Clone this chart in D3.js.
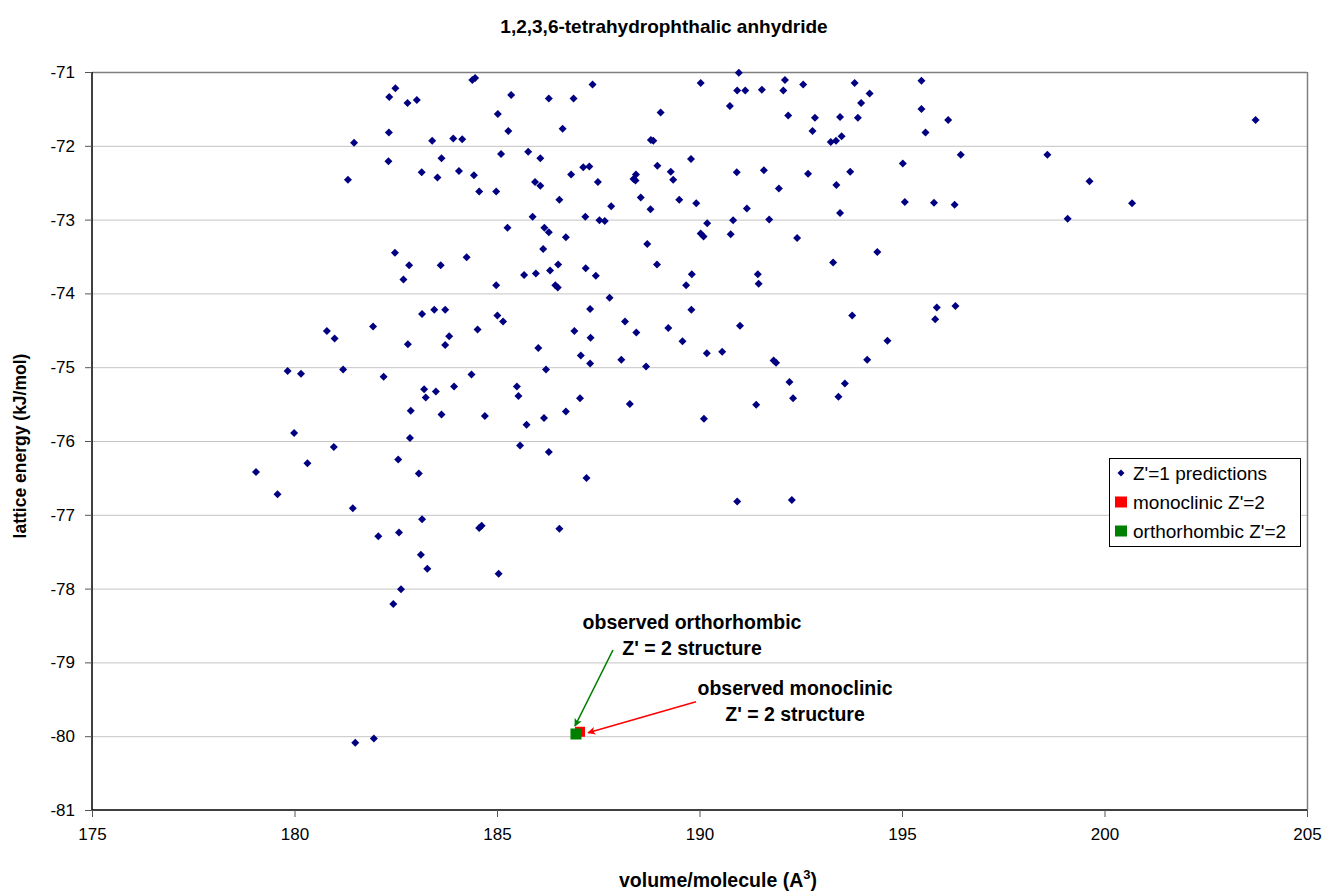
<!DOCTYPE html>
<html>
<head>
<meta charset="utf-8">
<script src="https://cdn.jsdelivr.net/npm/d3@7"></script>
<style>
  html, body { margin: 0; padding: 0; background: #fff; }
  svg { display: block; font-family: Arial, "Liberation Sans", sans-serif; }
</style>
</head>
<body>
<svg id="chart" width="1325" height="893"></svg>
<script>
// ---------- DATA ----------
const chartTitle = "1,2,3,6-tetrahydrophthalic anhydride";
const xTicks = [175, 180, 185, 190, 195, 200, 205];
const yTicks = [-71, -72, -73, -74, -75, -76, -77, -78, -79, -80, -81];

// Z'=1 predictions: volume/molecule (A^3)
const predVolume = [
  179.05,179.58,179.83,179.99,180.16,180.32,180.80,180.99,180.97,181.20,
  181.32,181.47,181.44,181.50,181.96,181.94,182.07,182.20,182.34,182.33,
  182.32,182.49,182.48,182.44,182.56,182.58,182.63,182.69,182.79,182.80,
  182.83,182.85,182.87,183.02,183.07,183.14,183.15,183.15,183.12,183.20,
  183.24,183.28,183.40,183.45,183.49,183.53,183.61,183.63,183.63,183.72,
  183.72,183.82,183.92,183.94,184.06,184.14,184.25,184.39,184.46,184.37,
  184.43,184.52,184.56,184.56,184.62,184.70,184.98,184.98,185.02,185.01,
  185.04,185.10,185.15,185.26,185.28,185.35,185.49,185.53,185.57,185.67,
  185.73,185.77,185.88,185.94,186.07,185.96,186.02,186.07,186.14,186.17,
  186.28,186.16,186.21,186.28,186.28,186.31,186.44,186.50,186.51,186.54,
  186.54,186.62,186.70,186.70,186.83,186.91,186.89,187.05,187.07,187.13,
  187.28,187.18,187.21,187.19,187.30,187.31,187.30,187.36,187.44,187.49,
  187.53,187.66,187.82,187.78,188.07,188.16,188.28,188.37,188.43,188.42,
  188.44,188.55,188.68,188.71,188.79,188.80,188.86,188.95,188.96,189.04,
  189.23,189.29,189.35,189.50,189.58,189.67,189.79,189.81,189.80,189.92,
  190.03,190.03,190.10,190.11,190.18,190.19,190.56,190.75,190.77,190.83,
  190.93,190.92,190.97,190.93,191.00,191.13,191.17,191.40,191.44,191.46,
  191.54,191.59,191.72,191.83,191.89,191.96,192.07,192.11,192.19,192.22,
  192.28,192.31,192.41,192.56,192.68,192.79,192.85,193.24,193.37,193.51,
  193.30,193.38,193.43,193.47,193.47,193.59,193.72,193.77,193.83,193.91,
  193.99,194.14,194.20,194.39,194.64,195.02,195.07,195.48,195.48,195.58,
  195.79,195.82,195.86,196.14,196.30,196.32,196.45,198.59,199.63,199.09,
  200.68,203.73
];
// Z'=1 predictions: lattice energy (kJ/mol)
const predEnergy = [
  -76.42,-76.72,-75.05,-75.89,-75.09,-76.30,-74.51,-74.61,-76.08,-75.03,
  -72.46,-71.96,-76.91,-80.09,-80.03,-74.45,-77.29,-75.13,-71.34,-71.82,
  -72.21,-71.22,-73.45,-78.21,-76.25,-77.24,-78.01,-73.81,-71.42,-74.69,
  -73.62,-75.96,-75.59,-71.38,-76.44,-72.36,-77.06,-74.28,-77.54,-75.30,
  -75.41,-77.73,-71.93,-74.22,-75.33,-72.43,-73.62,-72.17,-75.64,-74.70,
  -74.22,-74.58,-71.90,-75.26,-72.34,-71.91,-73.51,-71.11,-71.08,-75.10,
  -72.40,-74.49,-72.62,-77.18,-77.15,-75.66,-72.62,-73.89,-71.57,-74.30,
  -77.80,-72.11,-74.38,-73.11,-71.80,-71.31,-75.26,-75.39,-76.06,-73.75,
  -75.78,-72.08,-72.96,-72.49,-72.54,-73.73,-74.74,-72.17,-73.40,-73.11,
  -73.17,-75.69,-75.03,-76.15,-71.36,-73.69,-73.89,-73.92,-73.61,-72.73,
  -77.19,-71.77,-75.60,-73.24,-72.39,-74.51,-71.36,-75.42,-74.84,-72.29,
  -72.28,-72.96,-76.50,-73.66,-74.95,-74.60,-74.21,-71.17,-73.76,-72.49,
  -73.01,-73.02,-72.82,-74.06,-74.90,-74.38,-75.50,-72.45,-72.39,-72.47,
  -74.53,-72.70,-74.99,-73.33,-72.86,-71.92,-71.93,-73.61,-72.27,-71.55,
  -74.47,-72.35,-72.46,-72.73,-74.65,-73.89,-72.18,-73.74,-74.22,-72.78,
  -71.15,-73.19,-73.23,-75.70,-74.81,-73.05,-74.79,-71.46,-73.20,-73.01,
  -76.82,-72.36,-71.01,-71.25,-74.44,-71.25,-72.85,-75.51,-73.74,-73.87,
  -71.24,-72.33,-73.00,-74.91,-74.94,-72.58,-71.25,-71.11,-71.59,-75.20,
  -76.80,-75.42,-73.25,-71.17,-72.38,-71.80,-71.62,-71.95,-71.93,-71.87,
  -73.58,-72.53,-75.40,-72.91,-71.61,-75.22,-72.35,-74.30,-71.15,-71.62,
  -71.42,-74.90,-71.29,-73.44,-74.64,-72.24,-72.76,-71.12,-71.50,-71.82,
  -72.77,-74.35,-74.19,-71.65,-72.80,-74.17,-72.12,-72.12,-72.48,-72.99,
  -72.78,-71.65
];
// Observed Z'=2 structures
const monoVolume = [187.05];
const monoEnergy = [-79.94];
const orthoVolume = [186.95];
const orthoEnergy = [-79.97];

const legendLabels = ["Z'=1 predictions", "monoclinic Z'=2", "orthorhombic Z'=2"];
const annotOrtho = ["observed orthorhombic", "Z' = 2 structure"];
const annotMono = ["observed monoclinic", "Z' = 2 structure"];

// ---------- LAYOUT ----------
const W = 1325, H = 893;
const plot = { left: 92, right: 1307, top: 72, bottom: 810 };
const navy = "#000080", red = "#ff0000", green = "#008000";

const svg = d3.select("#chart");
const x = d3.scaleLinear().domain([175, 205]).range([plot.left, plot.right]);
const y = d3.scaleLinear().domain([-81, -71]).range([plot.bottom, plot.top]);

// gridlines
svg.append("g").selectAll("line").data(yTicks.filter(v => v !== -81 && v !== -71)).join("line")
  .attr("x1", plot.left).attr("x2", plot.right)
  .attr("y1", d => y(d) + 0.5).attr("y2", d => y(d) + 0.5)
  .attr("stroke", "#c4c4c4").attr("stroke-width", 1);

// plot border (top/right gray)
svg.append("line").attr("x1", plot.left).attr("x2", plot.right).attr("y1", plot.top + 0.5).attr("y2", plot.top + 0.5)
  .attr("stroke", "#808080").attr("stroke-width", 1.5);
svg.append("line").attr("x1", plot.right + 0.5).attr("x2", plot.right + 0.5).attr("y1", plot.top).attr("y2", plot.bottom)
  .attr("stroke", "#808080").attr("stroke-width", 1.5);

// axes
const xAxis = d3.axisBottom(x).tickValues(xTicks).tickSize(7).tickPadding(11).tickFormat(d3.format("d"));
const yAxis = d3.axisLeft(y).tickValues(yTicks).tickSize(7).tickPadding(10).tickFormat(d => d3.format("d")(d).replace("−", "-"));
const gx = svg.append("g").attr("transform", `translate(0,${plot.bottom})`).call(xAxis);
const gy = svg.append("g").attr("transform", `translate(${plot.left},0)`).call(yAxis);
[gx, gy].forEach(g => {
  g.select(".domain").attr("stroke", "#000").attr("stroke-width", 1.5);
  g.selectAll(".tick line").attr("stroke", "#555").attr("stroke-width", 1);
  g.selectAll(".tick text").attr("font-size", 17).attr("fill", "#000")
    .attr("font-family", "Arial, 'Liberation Sans', sans-serif");
});
gx.select(".domain").attr("d", `M${plot.left},0H${plot.right}`);
gy.select(".domain").attr("d", `M0,${plot.top}V${plot.bottom}`);

// diamonds
const diamond = r => `M0,${-r}L${r},0L0,${r}L${-r},0Z`;
const pts = predVolume.map((v, i) => ({ v, e: predEnergy[i] }));
svg.append("g").selectAll("path").data(pts).join("path")
  .attr("d", diamond(4))
  .attr("transform", d => `translate(${x(d.v)},${y(d.e)})`)
  .attr("fill", navy);

// observed structures (squares)
const sq = 10;
svg.append("g").selectAll("rect").data(monoVolume.map((v, i) => ({ v, e: monoEnergy[i] }))).join("rect")
  .attr("x", d => x(d.v) - sq / 2).attr("y", d => y(d.e) - sq / 2).attr("width", sq).attr("height", sq).attr("fill", red);
svg.append("g").selectAll("rect").data(orthoVolume.map((v, i) => ({ v, e: orthoEnergy[i] }))).join("rect")
  .attr("x", d => x(d.v) - sq / 2 - 0.5).attr("y", d => y(d.e) - sq / 2 - 0.5).attr("width", sq + 1).attr("height", sq + 1).attr("fill", green);

// arrow markers
const defs = svg.append("defs");
[["arrG", green], ["arrR", red]].forEach(([id, c]) => {
  defs.append("marker").attr("id", id).attr("viewBox", "0 0 10 10").attr("refX", 9).attr("refY", 5)
    .attr("markerWidth", 8).attr("markerHeight", 8).attr("markerUnits", "userSpaceOnUse").attr("orient", "auto")
    .append("path").attr("d", "M0,0L10,5L0,10L2.5,5Z").attr("fill", c);
});
const ox = x(orthoVolume[0]), oy = y(orthoEnergy[0]);
svg.append("line").attr("x1", ox + 37).attr("y1", oy - 84).attr("x2", ox - 1).attr("y2", oy - 8)
  .attr("stroke", green).attr("stroke-width", 1.6).attr("marker-end", "url(#arrG)");
const mx = x(monoVolume[0]), my = y(monoEnergy[0]);
svg.append("line").attr("x1", mx + 116).attr("y1", my - 30).attr("x2", mx + 8).attr("y2", my + 1)
  .attr("stroke", red).attr("stroke-width", 1.6).attr("marker-end", "url(#arrR)");

// annotation texts
function annot(lines, cx, cy) {
  const t = svg.append("text").attr("text-anchor", "middle").attr("font-size", 19.5).attr("font-weight", "bold").attr("fill", "#000");
  lines.forEach((s, i) => t.append("tspan").attr("x", cx).attr("y", cy + i * 26).text(s));
}
annot(annotOrtho, 692, 629);
annot(annotMono, 795, 695);

// title
svg.append("text").attr("x", 664).attr("y", 33).attr("text-anchor", "middle")
  .attr("font-size", 19).attr("font-weight", "bold").text(chartTitle);

// axis titles
svg.append("text").attr("transform", `translate(26,446) rotate(-90)`).attr("text-anchor", "middle")
  .attr("font-size", 17.5).attr("font-weight", "bold").text("lattice energy (kJ/mol)");
const xt = svg.append("text").attr("x", 718).attr("y", 887).attr("text-anchor", "middle")
  .attr("font-size", 19.5).attr("font-weight", "bold");
xt.append("tspan").text("volume/molecule (A");
xt.append("tspan").attr("dy", -8).attr("font-size", 13).text("3");
xt.append("tspan").attr("dy", 8).text(")");

// legend
const lg = svg.append("g");
lg.append("rect").attr("x", 1109.5).attr("y", 458.5).attr("width", 191).attr("height", 88)
  .attr("fill", "#fff").attr("stroke", "#000").attr("stroke-width", 1);
const rowsY = [473, 502, 531];
lg.append("path").attr("d", diamond(3.5)).attr("transform", `translate(1121,${rowsY[0]})`).attr("fill", navy);
lg.append("rect").attr("x", 1115).attr("y", rowsY[1] - 5.5).attr("width", 12).attr("height", 11).attr("fill", red);
lg.append("rect").attr("x", 1115).attr("y", rowsY[2] - 5.5).attr("width", 12).attr("height", 11).attr("fill", green);
legendLabels.forEach((s, i) => lg.append("text").attr("x", 1133).attr("y", rowsY[i] + 6.5)
  .attr("font-size", 19).attr("fill", "#000").text(s));
</script>
</body>
</html>
